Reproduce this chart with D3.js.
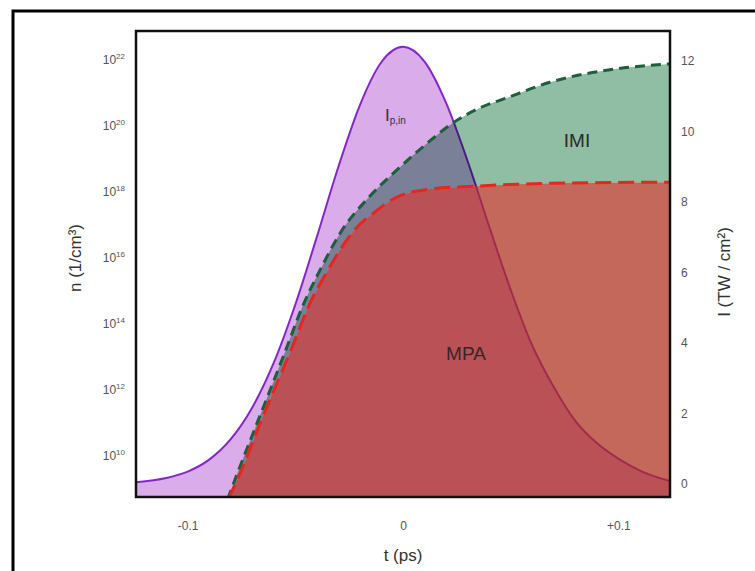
<!doctype html>
<html>
<head>
<meta charset="utf-8">
<title>Pulse ionization</title>
<script src="https://cdn.jsdelivr.net/npm/d3@7"></script>
<style>
    body { margin: 0; background: #fff; }
    svg text { font-family: "Liberation Sans", Arial, sans-serif; }
</style>
</head>
<body>
<svg id="chart" width="755" height="571"></svg>
<script>
// axis ticks
var tTicks = [-0.1, 0, 0.1];
var tLabels = ["-0.1", "0", "+0.1"];
var nTicks = [1e10, 1e12, 1e14, 1e16, 1e18, 1e20, 1e22];
var iTicks = [0, 2, 4, 6, 8, 10, 12];

// incoming pulse intensity I_p,in (TW/cm2, right axis)
var pulseT = [-0.124, -0.11, -0.10, -0.09, -0.08, -0.07, -0.06, -0.05, -0.04, -0.03, -0.02, -0.01, 0,
              0.01, 0.02, 0.03, 0.04, 0.05, 0.06, 0.07, 0.08, 0.09, 0.10, 0.11, 0.124];
var pulseI = [0.05, 0.17, 0.35, 0.69, 1.27, 2.17, 3.44, 5.09, 7.01, 9.0, 10.75, 11.97, 12.4,
              11.98, 10.81, 9.16, 7.31, 5.51, 3.93, 2.75, 1.79, 1.16, 0.72, 0.38, 0.08];

// electron density, IMI (1/cm3, left axis)
var imiT = [-0.0815, -0.0756, -0.0687, -0.0617, -0.0548, -0.0464, -0.0385, -0.0292, -0.0153, -0.0028,
            0.0102, 0.0232, 0.0357, 0.0483, 0.0682, 0.0993, 0.124];
var imiN = [4.5e8, 4.7e9, 6.6e10, 9.5e11, 1.35e13, 3.6e14, 4.2e15, 5.5e16, 7.4e17, 4.6e18,
            2.6e19, 1.23e20, 3.5e20, 7.1e20, 2.1e21, 5.4e21, 7.6e21];

// electron density, MPA only
var mpaT = [-0.0812, -0.0742, -0.0673, -0.0599, -0.0524, -0.0436, -0.0348, -0.0278, -0.0213, -0.0139,
            -0.0028, 0.0125, 0.0357, 0.0682, 0.124];
var mpaN = [4.5e8, 4.7e9, 6.6e10, 9.5e11, 1.35e13, 3.6e14, 4.2e15, 2.4e16, 8.5e16, 2.2e17,
            6.9e17, 1.2e18, 1.5e18, 1.8e18, 1.95e18];

var svg = d3.select("#chart");
var L = 136, R = 670, T = 31, B = 497;

var x = d3.scaleLinear().domain([-0.124, 0.124]).range([L, R]);
var yN = d3.scaleLog().domain([Math.pow(10, 8.73), Math.pow(10, 22.88)]).range([B, T]);
var yI = d3.scaleLinear().domain([-0.37, 12.85]).range([B, T]);

var pulse = pulseT.map(function (t, i) { return { t: t, v: pulseI[i] }; });
var imi = imiT.map(function (t, i) { return { t: t, v: imiN[i] }; });
var mpa = mpaT.map(function (t, i) { return { t: t, v: mpaN[i] }; });

// outer frame
svg.append("rect").attr("x", 13).attr("y", 11).attr("width", 780).attr("height", 600)
    .attr("fill", "none").attr("stroke", "#000").attr("stroke-width", 3);

var defs = svg.append("defs");
defs.append("clipPath").attr("id", "plotClip")
    .append("rect").attr("x", L).attr("y", T).attr("width", R - L).attr("height", B - T);

var pulseArea = d3.area().curve(d3.curveMonotoneX)
    .x(function (d) { return x(d.t); }).y0(B).y1(function (d) { return yI(d.v); });
var pulseLine = d3.line().curve(d3.curveMonotoneX)
    .x(function (d) { return x(d.t); }).y(function (d) { return yI(d.v); });
var nArea = d3.area().curve(d3.curveMonotoneX)
    .x(function (d) { return x(d.t); }).y0(B + 5).y1(function (d) { return yN(d.v); });
var nLine = d3.line().curve(d3.curveMonotoneX)
    .x(function (d) { return x(d.t); }).y(function (d) { return yN(d.v); });

// mask so IMI fill is only the band above the MPA curve
var mask = defs.append("mask").attr("id", "notMpa");
mask.append("rect").attr("x", 0).attr("y", 0).attr("width", 755).attr("height", 571).attr("fill", "#fff");
mask.append("path").attr("d", nArea(mpa)).attr("fill", "#000");

var g = svg.append("g").attr("clip-path", "url(#plotClip)");

g.append("path").attr("d", pulseArea(pulse)).attr("fill", "#daacea");
g.append("path").attr("d", pulseLine(pulse)).attr("fill", "none")
    .attr("stroke", "#8526c9").attr("stroke-width", 2);

g.append("path").attr("d", nArea(imi)).attr("fill", "#8fbea5")
    .attr("mask", "url(#notMpa)").style("mix-blend-mode", "multiply");
g.append("path").attr("d", nArea(mpa)).attr("fill", "#ad2e1d").attr("fill-opacity", 0.72);

g.append("path").attr("d", nLine(imi)).attr("fill", "none")
    .attr("stroke", "#1d5e3b").attr("stroke-width", 3).attr("stroke-dasharray", "10,6");
g.append("path").attr("d", nLine(mpa)).attr("fill", "none")
    .attr("stroke", "#e8251e").attr("stroke-width", 3).attr("stroke-dasharray", "16,7");

// plot frame
svg.append("rect").attr("x", L).attr("y", T).attr("width", R - L).attr("height", B - T)
    .attr("fill", "none").attr("stroke", "#111").attr("stroke-width", 2.5);

// axes
var axL = svg.append("g").attr("transform", "translate(" + L + ",0)")
    .call(d3.axisLeft(yN).tickValues(nTicks).tickSize(0).tickPadding(11).tickFormat(function () { return ""; }));
axL.select(".domain").remove();
axL.selectAll(".tick text").each(function (d) {
    var el = d3.select(this);
    el.append("tspan").text("10");
    el.append("tspan").attr("dy", "-5").attr("font-size", 8).text(Math.round(Math.log10(d)));
});

var axR = svg.append("g").attr("transform", "translate(" + R + ",0)")
    .call(d3.axisRight(yI).tickValues(iTicks).tickSize(0).tickPadding(11));
axR.select(".domain").remove();

var axB = svg.append("g").attr("transform", "translate(0," + B + ")")
    .call(d3.axisBottom(x).tickValues(tTicks).tickSize(0).tickPadding(24)
        .tickFormat(function (d, i) { return tLabels[i]; }));
axB.select(".domain").remove();

svg.selectAll(".tick text").attr("font-size", 12).attr("fill", "#555")
    .attr("font-family", "Liberation Sans, Arial, sans-serif");

// axis titles
svg.append("text").attr("x", 403).attr("y", 561).attr("text-anchor", "middle")
    .attr("font-size", 17).attr("fill", "#333").text("t (ps)");
svg.append("text").attr("transform", "translate(81,258) rotate(-90)").attr("text-anchor", "middle")
    .attr("font-size", 17).attr("fill", "#333").text("n (1/cm\u00b3)");
svg.append("text").attr("transform", "translate(730,272) rotate(-90)").attr("text-anchor", "middle")
    .attr("font-size", 17).attr("fill", "#333").text("I (TW / cm\u00b2)");

// region labels
var ip = svg.append("text").attr("x", 385).attr("y", 121).attr("fill", "#333").attr("font-size", 17);
ip.append("tspan").text("I");
ip.append("tspan").attr("font-size", 10).attr("dy", 3).text("p,in");
svg.append("text").attr("x", 577).attr("y", 147).attr("text-anchor", "middle")
    .attr("font-size", 19).attr("fill", "#2a2a2a").text("IMI");
svg.append("text").attr("x", 466).attr("y", 360).attr("text-anchor", "middle")
    .attr("font-size", 19).attr("fill", "#3a2525").text("MPA");
</script>
</body>
</html>
